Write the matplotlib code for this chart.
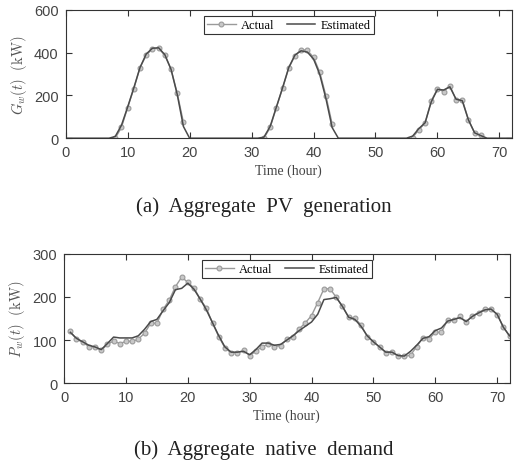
import numpy as np
import matplotlib.pyplot as plt

plt.rcParams['mathtext.fontset'] = 'cm'

# ---- data ----
hours = np.arange(0, 73)

# PV generation, hourly estimate (kW)
pv_est = [0, 0, 0, 0, 0, 0, 0, 0, 8, 60, 145, 235, 330, 393, 420, 422, 390, 322, 205, 55,
          0, 0, 0, 0, 0, 0, 0, 0, 0, 0, 0, 0, 5, 55, 145, 235, 330, 388, 408, 402, 370, 298,
          185, 50, 0, 0, 0, 0, 0, 0, 0, 0, 0, 0, 0, 0, 10, 45, 72, 170, 228, 225, 240, 182,
          175, 85, 25, 12, 0, 0, 0, 0, 0]

# PV generation, measured (only daylight hours are marked)
pv_hours_1 = [8, 9, 10, 11, 12, 13, 14, 15, 16, 17, 18, 19]
pv_act_1 = [0, 50, 143, 232, 330, 387, 418, 420, 387, 322, 210, 75]
pv_hours_2 = [32, 33, 34, 35, 36, 37, 38, 39, 40, 41, 42, 43]
pv_act_2 = [0, 50, 143, 233, 327, 386, 414, 410, 378, 308, 198, 67]
pv_hours_3 = [56, 57, 58, 59, 60, 61, 62, 63, 64, 65, 66, 67]
pv_act_3 = [3, 40, 70, 175, 230, 218, 245, 180, 180, 86, 23, 14]

# native demand (kW), hours 1..72
dem_hours = np.arange(1, 73)
dem_act = [120, 102, 95, 85, 84, 76, 90, 98, 92, 97, 97, 102, 116, 139, 139, 171, 193, 224,
           246, 234, 221, 195, 174, 139, 108, 82, 70, 71, 76, 64, 74, 85, 90, 85, 87, 102,
           108, 126, 140, 157, 187, 219, 219, 199, 178, 153, 151, 135, 108, 96, 84, 71, 73,
           62, 62, 65, 85, 106, 103, 118, 118, 147, 146, 155, 142, 157, 163, 172, 172, 159,
           131, 109]
dem_est = [118, 104, 96, 88, 84, 78, 92, 107, 105, 105, 105, 110, 125, 143, 148, 168, 187,
           217, 220, 232, 218, 195, 170, 140, 110, 84, 72, 72, 74, 66, 78, 93, 93, 88, 90,
           100, 110, 122, 132, 142, 160, 194, 196, 199, 178, 153, 148, 132, 110, 96, 84, 72,
           72, 64, 63, 74, 88, 104, 108, 122, 128, 144, 148, 152, 143, 155, 163, 170, 172,
           160, 130, 110]

c_act = '#9a9a9a'
c_est = '#4a4a4a'
c_ax = '#333333'
serif = 'Liberation Serif'
sans = 'Liberation Sans'

fig = plt.figure(figsize=(5.17, 4.64), dpi=100)
ax1 = fig.add_axes([0.127, 0.700, 0.863, 0.277])
ax2 = fig.add_axes([0.124, 0.172, 0.8615, 0.2787])


def style(ax, ymax, ylabel):
    ax.set_xlim(0, 72)
    ax.set_ylim(0, ymax)
    ax.set_xticks(range(0, 80, 10))
    ax.set_yticks(np.linspace(0, ymax, 4))
    ax.tick_params(direction='in', top=True, right=True, length=4, width=0.8,
                   colors=c_ax, labelsize=10.5, pad=5)
    for lab in ax.get_xticklabels() + ax.get_yticklabels():
        lab.set_family(sans)
        lab.set_color('#444444')
    for s in ax.spines.values():
        s.set_color(c_ax)
        s.set_linewidth(0.8)
    ax.set_xlabel('Time (hour)', family=serif, fontsize=10, color='#444444', labelpad=3)
    ax.set_ylabel(ylabel, fontsize=10.5, color='#555555', labelpad=4)
    leg = ax.legend(loc='upper center', prop={'family': serif, 'size': 9},
                    fancybox=False, edgecolor=c_ax, framealpha=1, ncol=2,
                    handlelength=2.3, borderpad=0.25, columnspacing=1.0,
                    handletextpad=0.4, borderaxespad=0.5)
    leg.get_frame().set_linewidth(0.8)


# (a) PV generation
first = True
for hh, vv in [(pv_hours_1, pv_act_1), (pv_hours_2, pv_act_2), (pv_hours_3, pv_act_3)]:
    ax1.plot(hh, vv, '-o', color=c_act, lw=1.0, ms=3.5, mfc='#c8c8c8', mec=c_act,
             mew=0.8, label='Actual' if first else None)
    first = False
ax1.plot(hours, pv_est, '-', color=c_est, lw=1.1, label='Estimated')
style(ax1, 600, r'$G_w(t)\ \ (\mathrm{kW})$')

# (b) native demand
ax2.plot(dem_hours, dem_act, '-o', color=c_act, lw=1.0, ms=3.5, mfc='#c8c8c8', mec=c_act,
         mew=0.8, label='Actual')
ax2.plot(dem_hours, dem_est, '-', color=c_est, lw=1.1, label='Estimated')
style(ax2, 300, r'$P_w(t)\ \ (\mathrm{kW})$')

fig.text(0.511, 0.553, '(a)  Aggregate  PV  generation', ha='center', va='center',
         family=serif, fontsize=15, color='#222222')
fig.text(0.511, 0.030, '(b)  Aggregate  native  demand', ha='center', va='center',
         family=serif, fontsize=15, color='#222222')

fig.savefig('out.png', dpi=100)
